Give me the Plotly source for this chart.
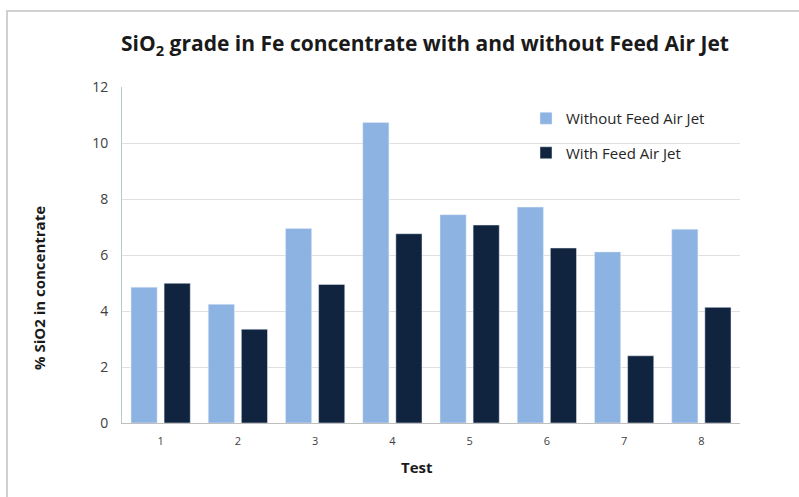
import plotly.graph_objects as go

tests = ["1", "2", "3", "4", "5", "6", "7", "8"]
without_jet = [4.85, 4.24, 6.95, 10.73, 7.44, 7.71, 6.11, 6.92]
with_jet = [4.99, 3.35, 4.95, 6.76, 7.07, 6.25, 2.40, 4.13]
y_ticks = [0, 2, 4, 6, 8, 10, 12]

LIGHT = "#8DB3E2"
DARK = "#10243F"
FONT = "Open Sans"

# plot-area geometry in pixels
W, H = 799, 497
L, R, T, B = 122, 59, 87, 74
PW, PH = W - L - R, H - T - B


def px_x(p):
    return (p - L) / PW


def px_y(p):
    return (H - B - p) / PH


fig = go.Figure()
fig.add_trace(go.Bar(x=tests, y=without_jet, name="Without Feed Air Jet",
                     marker_color=LIGHT, legendgroup="a"))
fig.add_trace(go.Bar(x=tests, y=with_jet, name="With Feed Air Jet",
                     marker_color=DARK, legendgroup="b"))

shapes = [
    # outer chart frame
    dict(type="rect", xref="paper", yref="paper",
         x0=px_x(7), x1=px_x(820), y0=px_y(520), y1=px_y(11),
         line=dict(color="#D0D0D0", width=2), fillcolor="rgba(0,0,0,0)",
         layer="below"),
    # white backing behind the legend
    dict(type="rect", xref="paper", yref="paper",
         x0=px_x(490), x1=px_x(760), y0=px_y(190), y1=px_y(96),
         line=dict(width=0), fillcolor="white", layer="below"),
]

annotations = [
    dict(text="<b>% SiO2 in concentrate</b>", xref="paper", yref="paper",
         x=px_x(39), y=px_y(288), showarrow=False, textangle=-90,
         font=dict(family=FONT, size=15, color="#1a1a1a"),
         xanchor="center", yanchor="middle"),
    dict(text="<b>Test</b>", xref="paper", yref="paper",
         x=px_x(417), y=px_y(467), showarrow=False,
         font=dict(family=FONT, size=15, color="#1a1a1a"),
         xanchor="center", yanchor="middle"),
]

fig.update_layout(
    width=W, height=H,
    margin=dict(l=L, r=R, t=T, b=B),
    paper_bgcolor="white", plot_bgcolor="white",
    barmode="group", bargap=0.143, bargroupgap=0.21,
    title=dict(text="<b>SiO<sub>2</sub> grade in Fe concentrate with and without Feed Air Jet</b>",
               x=425 / W, xanchor="center", y=1 - 44 / H, yanchor="middle",
               font=dict(family=FONT, size=21, color="#1a1a1a")),
    legend=dict(x=px_x(526), y=px_y(102), xanchor="left", yanchor="top",
                bgcolor="rgba(0,0,0,0)", traceorder="grouped",
                tracegroupgap=12,
                font=dict(family=FONT, size=15, color="#262626")),
    shapes=shapes,
    annotations=annotations,
    xaxis=dict(showgrid=False, showline=True, linecolor="#BFBFBF", linewidth=1,
               tickfont=dict(family=FONT, size=11, color="#404040"),
               ticklabelstandoff=8, fixedrange=True),
    yaxis=dict(range=[0, 12], tickvals=y_ticks, showgrid=True,
               gridcolor="#E0E0E0", gridwidth=1, zeroline=False,
               showline=True, linecolor="#BCC8D0", linewidth=1,
               tickfont=dict(family=FONT, size=14, color="#404040"),
               ticklabelstandoff=10, fixedrange=True),
)

fig.write_html("out.html")
